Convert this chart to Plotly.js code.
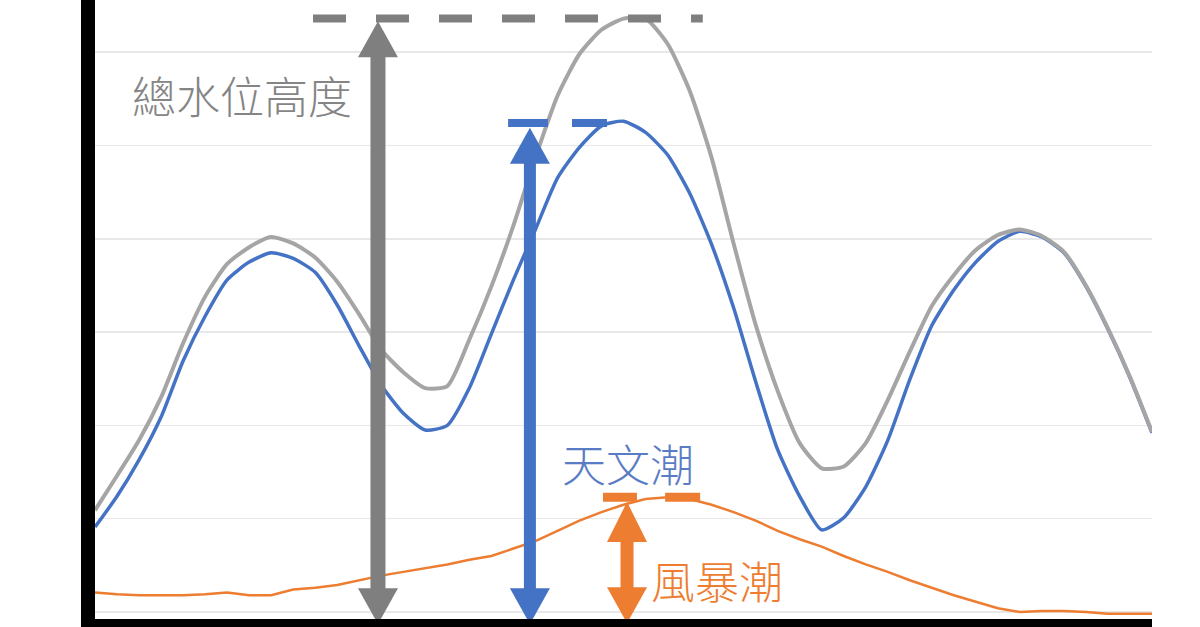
<!DOCTYPE html>
<html>
<head>
<meta charset="utf-8">
<script src="https://cdn.plot.ly/plotly-3.0.1.min.js"></script>
<style>
  html, body { margin: 0; padding: 0; background: #ffffff; }
  #chart { width: 1200px; height: 627px; }
</style>
</head>
<body>
<div id="chart"></div>
<script>
// time steps (hours) and water levels
var hours = [];
for (var h = 0; h <= 48; h++) hours.push(h);

var totalLevel = [1.09, 1.46, 1.84, 2.30, 2.88, 3.38, 3.73, 3.91, 4.02, 3.95,
                  3.80, 3.54, 3.19, 2.81, 2.57, 2.40, 2.42, 2.92, 3.49, 4.14,
                  4.87, 5.53, 5.98, 6.24, 6.36, 6.36, 6.09, 5.59, 4.87, 3.95,
                  3.08, 2.37, 1.81, 1.54, 1.56, 1.81, 2.27, 2.79, 3.28, 3.61,
                  3.88, 4.04, 4.10, 4.03, 3.86, 3.50, 3.04, 2.52, 1.93];

var astroTide = [0.91, 1.24, 1.63, 2.09, 2.69, 3.17, 3.56, 3.75, 3.85, 3.79,
                 3.64, 3.29, 2.85, 2.43, 2.13, 1.95, 2.00, 2.40, 2.98, 3.56,
                 4.10, 4.65, 4.98, 5.21, 5.26, 5.14, 4.90, 4.49, 3.94, 3.26,
                 2.47, 1.74, 1.24, 0.88, 1.01, 1.34, 1.84, 2.49, 3.07, 3.45,
                 3.75, 3.97, 4.08, 4.02, 3.85, 3.49, 3.03, 2.51, 1.92];

var stormSurge = [0.21, 0.19, 0.18, 0.18, 0.18, 0.19, 0.21, 0.18, 0.18, 0.24,
                  0.26, 0.29, 0.34, 0.39, 0.43, 0.47, 0.51, 0.56, 0.60, 0.68,
                  0.76, 0.87, 0.98, 1.07, 1.15, 1.21, 1.23, 1.21, 1.15, 1.07,
                  0.98, 0.87, 0.78, 0.70, 0.60, 0.51, 0.43, 0.34, 0.26, 0.18,
                  0.11, 0.04, 0.00, 0.01, 0.01, 0.00, -0.02, -0.02, -0.02];

var labels = ['總水位高度', '天文潮', '風暴潮'];

var GRAY = '#a5a5a5', DARKGRAY = '#7f7f7f', BLUE = '#4472c4', ORANGE = '#ed7d31';

// double headed arrow: shaft + two triangle heads (heads sized in pixels)
function doubleArrow(x, yTop, yBottom, color, shaftW, headH) {
    var out = [];
    out.push({ type: 'line', xref: 'x', yref: 'y', x0: x, x1: x, y0: yTop - 0.3, y1: yBottom + 0.3,
               line: { color: color, width: shaftW } });
    out.push({ type: 'path', xref: 'x', yref: 'y', xsizemode: 'pixel', ysizemode: 'pixel',
               xanchor: x, yanchor: yTop, path: 'M0,0 L-20,-' + headH + ' L20,-' + headH + ' Z',
               fillcolor: color, line: { width: 0 } });
    out.push({ type: 'path', xref: 'x', yref: 'y', xsizemode: 'pixel', ysizemode: 'pixel',
               xanchor: x, yanchor: yBottom, path: 'M0,0 L-20,36 L20,36 Z',
               fillcolor: color, line: { width: 0 } });
    return out;
}

function cap(x0, x1, y, color, w) {
    return { type: 'line', xref: 'x', yref: 'y', x0: x0, x1: x1, y0: y, y1: y,
             line: { color: color, width: w } };
}

var shapes = [];
// dashed line at total peak
shapes.push({ type: 'line', xref: 'x', yref: 'y', x0: 9.9, x1: 27.6, y0: 6.36, y1: 6.36,
              line: { color: DARKGRAY, width: 8, dash: '33px,30px' } });
shapes = shapes.concat(doubleArrow(12.85, 6.33, -0.13, DARKGRAY, 15, 36));
// blue caps + arrow
shapes.push(cap(18.76, 20.57, 5.24, BLUE, 8));
shapes.push(cap(21.66, 23.25, 5.24, BLUE, 8));
shapes = shapes.concat(doubleArrow(19.75, 5.19, -0.13, BLUE, 12, 36));
// orange caps + arrow
shapes.push(cap(23.07, 24.61, 1.23, ORANGE, 9));
shapes.push(cap(25.89, 27.48, 1.23, ORANGE, 9));
shapes = shapes.concat(doubleArrow(24.16, 1.18, -0.12, ORANGE, 13, 40));
// thick black axes
shapes.push({ type: 'rect', xref: 'paper', yref: 'paper', x0: -0.01325, x1: 0, y0: -0.03, y1: 1,
              fillcolor: '#000000', line: { width: 0 }, layer: 'above' });
shapes.push({ type: 'rect', xref: 'paper', yref: 'paper', x0: -0.01325, x1: 1, y0: -0.03, y1: 0,
              fillcolor: '#000000', line: { width: 0 }, layer: 'above' });

var fontCJK = '"Noto Sans CJK TC", "Noto Sans CJK SC", sans-serif';

var traces = [
    { x: hours, y: stormSurge, type: 'scatter', mode: 'lines', name: labels[2],
      line: { color: ORANGE, width: 2.5 }, hoverinfo: 'skip' },
    { x: hours, y: astroTide, type: 'scatter', mode: 'lines', name: labels[1],
      line: { color: BLUE, width: 3.5, shape: 'spline', smoothing: 0.6 }, hoverinfo: 'skip' },
    { x: hours, y: totalLevel, type: 'scatter', mode: 'lines', name: labels[0],
      line: { color: GRAY, width: 4, shape: 'spline', smoothing: 0.6 }, hoverinfo: 'skip' }
];

var layout = {
    width: 1200, height: 627,
    margin: { l: 95, r: 48, t: 0, b: 8 },
    paper_bgcolor: '#ffffff', plot_bgcolor: '#ffffff',
    showlegend: false,
    xaxis: { range: [0, 48], showgrid: false, zeroline: false, showticklabels: false, ticks: '' },
    yaxis: { range: [-0.075, 6.559], tick0: 0, dtick: 1, showgrid: true, gridcolor: '#e8e8e8', gridwidth: 1.5,
             zeroline: false, showticklabels: false, ticks: '' },
    shapes: shapes,
    annotations: [
        { x: 6.68, y: 5.54, xref: 'x', yref: 'y', text: labels[0], showarrow: false,
          xanchor: 'center', yanchor: 'middle', font: { family: fontCJK, size: 44, color: '#858585', weight: 300 } },
        { x: 24.2, y: 1.60, xref: 'x', yref: 'y', text: labels[1], showarrow: false,
          xanchor: 'center', yanchor: 'middle', font: { family: fontCJK, size: 44, color: '#5a7cc4', weight: 300 } },
        { x: 28.25, y: 0.34, xref: 'x', yref: 'y', text: labels[2], showarrow: false,
          xanchor: 'center', yanchor: 'middle', font: { family: fontCJK, size: 44, color: ORANGE, weight: 300 } }
    ]
};

Plotly.newPlot('chart', traces, layout, { displayModeBar: false, staticPlot: true });
</script>
</body>
</html>
